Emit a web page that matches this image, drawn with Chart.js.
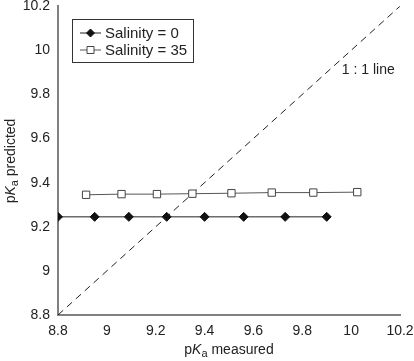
<!DOCTYPE html>
<html lang="en">
<head>
  <meta charset="UTF-8">
  <title>pKa predicted vs measured</title>
  <script src="https://cdn.jsdelivr.net/npm/chart.js"></script>
  <style>
    html, body { margin: 0; padding: 0; background: #fff; }
    #wrap { width: 414px; height: 361px; }
  </style>
</head>
<body>
  <div id="wrap"><canvas id="pkaChart" width="414" height="361"></canvas></div>

  <script>
    // values
    const measured0 = [8.80, 8.95, 9.09, 9.245, 9.40, 9.56, 9.73, 9.90];
    const predicted0 = [9.245, 9.245, 9.245, 9.245, 9.245, 9.245, 9.245, 9.245];
    const measured35 = [8.915, 9.06, 9.205, 9.35, 9.51, 9.675, 9.845, 10.025];
    const predicted35 = [9.345, 9.348, 9.348, 9.35, 9.352, 9.355, 9.355, 9.357];
    const oneToOne = [8.8, 10.2];
    const tickValues = [8.8, 9, 9.2, 9.4, 9.6, 9.8, 10, 10.2];
    const seriesNames = ["Salinity = 0", "Salinity = 35"];
    const lineLabel = "1 : 1 line";

    const FONT = "Liberation Sans, Arial, Helvetica, sans-serif";
    const toXY = (xs, ys) => xs.map((x, i) => ({ x: x, y: ys[i] }));

    // axis titles with italic K and subscript a, legend box and 1:1 label
    const extras = {
      id: 'extras',
      afterDraw(chart) {
        const ctx = chart.ctx;
        const xs = chart.scales.x, ys = chart.scales.y;
        ctx.save();
        ctx.fillStyle = '#222';

        function pkaTitle(rest) {
          const parts = [
            { t: 'p', f: '14px ' + FONT, dy: 0 },
            { t: 'K', f: 'italic 14px ' + FONT, dy: 0 },
            { t: 'a', f: '11px ' + FONT, dy: 4 },
            { t: ' ' + rest, f: '14px ' + FONT, dy: 0 }
          ];
          let w = 0;
          parts.forEach(p => { ctx.font = p.f; p.w = ctx.measureText(p.t).width; w += p.w; });
          let x = -w / 2;
          ctx.textBaseline = 'middle';
          ctx.textAlign = 'left';
          parts.forEach(p => { ctx.font = p.f; ctx.fillText(p.t, x, p.dy); x += p.w; });
        }

        ctx.save();
        ctx.translate(229, 350);
        pkaTitle('measured');
        ctx.restore();

        ctx.save();
        ctx.translate(11, 161);
        ctx.rotate(-Math.PI / 2);
        pkaTitle('predicted');
        ctx.restore();

        // 1 : 1 line label
        ctx.font = '14px ' + FONT;
        ctx.textAlign = 'left';
        ctx.textBaseline = 'middle';
        ctx.fillText(lineLabel, xs.getPixelForValue(9.962), ys.getPixelForValue(9.911));

        // legend
        ctx.strokeStyle = '#333';
        ctx.lineWidth = 1;
        ctx.strokeRect(72.5, 19.5, 121, 43);
        const rows = [33, 50];
        rows.forEach((ry, i) => {
          const ds = chart.data.datasets[i];
          ctx.strokeStyle = ds.borderColor;
          ctx.beginPath();
          ctx.moveTo(80, ry);
          ctx.lineTo(101, ry);
          ctx.stroke();
          ctx.fillStyle = ds.pointBackgroundColor;
          ctx.strokeStyle = ds.pointBorderColor;
          ctx.lineWidth = 1;
          ctx.beginPath();
          if (ds.pointStyle === 'rectRot') {
            ctx.moveTo(90.5 - 4, ry); ctx.lineTo(90.5, ry - 4);
            ctx.lineTo(90.5 + 4, ry); ctx.lineTo(90.5, ry + 4);
          } else {
            ctx.rect(87, ry - 3.5, 7, 7);
          }
          ctx.closePath();
          ctx.fill();
          ctx.stroke();
          ctx.fillStyle = '#222';
          ctx.font = '15px ' + FONT;
          ctx.fillText(seriesNames[i], 105, ry + 0.5);
        });
        ctx.restore();
      }
    };

    const axisCommon = {
      type: 'linear',
      min: 8.8,
      max: 10.2,
      grid: {
        display: false,
        drawTicks: true,
        tickLength: 4,
        tickColor: '#808080'
      },
      border: { display: true, color: '#808080', width: 2 },
      ticks: {
        color: '#222',
        font: { family: FONT, size: 14 },
        padding: 4,
        callback: v => String(Math.round(v * 10) / 10)
      },
      afterBuildTicks: axis => { axis.ticks = tickValues.map(v => ({ value: v })); }
    };

    new Chart(document.getElementById('pkaChart'), {
      type: 'scatter',
      data: {
        datasets: [
          {
            label: seriesNames[0],
            data: toXY(measured0, predicted0),
            showLine: true,
            borderColor: '#222',
            borderWidth: 1,
            pointStyle: 'rectRot',
            pointRadius: 4.5,
            pointBackgroundColor: '#111',
            pointBorderColor: '#111',
            pointBorderWidth: 1
          },
          {
            label: seriesNames[1],
            data: toXY(measured35, predicted35),
            showLine: true,
            borderColor: '#555',
            borderWidth: 1,
            pointStyle: 'rect',
            pointRadius: 5.2,
            pointBackgroundColor: '#fff',
            pointBorderColor: '#444',
            pointBorderWidth: 1
          },
          {
            label: lineLabel,
            data: toXY(oneToOne, oneToOne),
            showLine: true,
            borderColor: '#222',
            borderWidth: 1,
            borderDash: [7, 5],
            pointRadius: 0
          }
        ]
      },
      options: {
        responsive: false,
        animation: false,
        layout: { padding: { left: 0, top: 5, right: 14, bottom: 0 } },
        plugins: {
          legend: { display: false },
          tooltip: { enabled: false }
        },
        scales: {
          x: Object.assign({}, axisCommon, {
            position: 'bottom',
            afterFit: s => { s.height = 46; s.paddingLeft = 0; s.paddingRight = 0; }
          }),
          y: Object.assign({}, axisCommon, {
            position: 'left',
            afterFit: s => { s.width = 58; s.paddingTop = 0; s.paddingBottom = 0; }
          })
        }
      },
      plugins: [extras]
    });
  </script>
</body>
</html>
